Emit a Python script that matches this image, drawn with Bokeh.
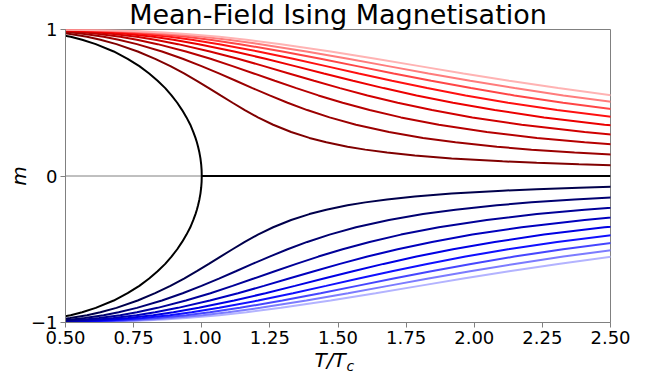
from bokeh.plotting import figure
from bokeh.models import FixedTicker, NumeralTickFormatter, Span, Title, Range1d
from bokeh.embed import file_html
from bokeh.resources import INLINE

# ---------------- data ----------------
TITLE = "Mean-Field Ising Magnetisation"
X_LABEL = "T/T"
X_LABEL_SUB = "c"
Y_LABEL = "m"
X_TICKS = [0.5, 0.75, 1.0, 1.25, 1.5, 1.75, 2.0, 2.25, 2.5]
Y_TICKS = [-1, 0, 1]
Y_TICK_LABELS = ["\u22121", "0", "1"]

# h = 0 (spontaneous magnetisation, both branches) and paramagnetic branch
T_H0 = [0.464, 0.493, 0.519, 0.561, 0.611, 0.677, 0.728, 0.771, 0.807, 0.838, 0.866, 0.889,
        0.910, 0.928, 0.944, 0.958, 0.9692, 0.9770, 0.9821, 0.9865, 0.9914, 0.9952, 0.9979,
        0.9995, 1.0, 0.9995, 0.9979, 0.9952, 0.9914, 0.9865, 0.9821, 0.9770, 0.9692, 0.958,
        0.944, 0.928, 0.910, 0.889, 0.866, 0.838, 0.807, 0.771, 0.728, 0.677, 0.611, 0.561,
        0.519, 0.493, 0.464]
M_H0 = [0.97, 0.96, 0.95, 0.93, 0.90, 0.85, 0.80, 0.75, 0.70, 0.65, 0.60, 0.55,
        0.50, 0.45, 0.40, 0.35, 0.30, 0.26, 0.23, 0.20, 0.16, 0.12, 0.08,
        0.04, 0.0, -0.04, -0.08, -0.12, -0.16, -0.20, -0.23, -0.26, -0.30, -0.35,
        -0.40, -0.45, -0.50, -0.55, -0.60, -0.65, -0.70, -0.75, -0.80, -0.85, -0.90, -0.93,
        -0.95, -0.96, -0.97]
T_PARA = [1.0, 2.5]
M_PARA = [0.0, 0.0]

# field h = 1/9 ... 9/9 (positive field: red, negative field: blue)
T_H1 = [0.475, 0.517, 0.579, 0.628, 0.687, 0.765, 0.829, 0.885, 0.935, 0.982, 1.026, 1.069, 1.113, 1.158,
        1.206, 1.262, 1.328, 1.395, 1.457, 1.535, 1.600, 1.680, 1.782, 1.917, 2.104, 2.229, 2.384, 2.583]
M_H1 = [0.98, 0.97, 0.95, 0.93, 0.90, 0.85, 0.80, 0.75, 0.70, 0.65, 0.60, 0.55, 0.50, 0.45,
        0.40, 0.35, 0.30, 0.26, 0.23, 0.20, 0.18, 0.16, 0.14, 0.12, 0.10, 0.09, 0.08, 0.07]
M_H1_NEG = [-0.98, -0.97, -0.95, -0.93, -0.90, -0.85, -0.80, -0.75, -0.70, -0.65, -0.60, -0.55, -0.50, -0.45,
            -0.40, -0.35, -0.30, -0.26, -0.23, -0.20, -0.18, -0.16, -0.14, -0.12, -0.10, -0.09, -0.08, -0.07]

T_H2 = [0.458, 0.523, 0.570, 0.640, 0.695, 0.762, 0.854, 0.930, 0.999, 1.063, 1.125, 1.186,
        1.249, 1.315, 1.387, 1.469, 1.566, 1.687, 1.812, 1.931, 2.083, 2.210, 2.368, 2.570]
M_H2 = [0.99, 0.98, 0.97, 0.95, 0.93, 0.90, 0.85, 0.80, 0.75, 0.70, 0.65, 0.60,
        0.55, 0.50, 0.45, 0.40, 0.35, 0.30, 0.26, 0.23, 0.20, 0.18, 0.16, 0.14]
M_H2_NEG = [-0.99, -0.98, -0.97, -0.95, -0.93, -0.90, -0.85, -0.80, -0.75, -0.70, -0.65, -0.60,
            -0.55, -0.50, -0.45, -0.40, -0.35, -0.30, -0.26, -0.23, -0.20, -0.18, -0.16, -0.14]

T_H3 = [0.444, 0.500, 0.572, 0.623, 0.701, 0.762, 0.838, 0.942, 1.032, 1.113, 1.191,
        1.268, 1.347, 1.428, 1.517, 1.616, 1.731, 1.870, 2.046, 2.230, 2.405, 2.631]
M_H3 = [0.995, 0.99, 0.98, 0.97, 0.95, 0.93, 0.90, 0.85, 0.80, 0.75, 0.70,
        0.65, 0.60, 0.55, 0.50, 0.45, 0.40, 0.35, 0.30, 0.26, 0.23, 0.20]
M_H3_NEG = [-0.995, -0.99, -0.98, -0.97, -0.95, -0.93, -0.90, -0.85, -0.80, -0.75, -0.70,
            -0.65, -0.60, -0.55, -0.50, -0.45, -0.40, -0.35, -0.30, -0.26, -0.23, -0.20]

T_H4 = [0.481, 0.542, 0.620, 0.676, 0.761, 0.829, 0.913, 1.030, 1.133, 1.228,
        1.320, 1.412, 1.507, 1.608, 1.719, 1.845, 1.993, 2.174, 2.405, 2.647]
M_H4 = [0.995, 0.99, 0.98, 0.97, 0.95, 0.93, 0.90, 0.85, 0.80, 0.75,
        0.70, 0.65, 0.60, 0.55, 0.50, 0.45, 0.40, 0.35, 0.30, 0.26]
M_H4_NEG = [-0.995, -0.99, -0.98, -0.97, -0.95, -0.93, -0.90, -0.85, -0.80, -0.75,
            -0.70, -0.65, -0.60, -0.55, -0.50, -0.45, -0.40, -0.35, -0.30, -0.26]

T_H5 = [0.409, 0.518, 0.584, 0.668, 0.729, 0.822, 0.896, 0.989, 1.119, 1.234,
        1.342, 1.448, 1.555, 1.667, 1.788, 1.922, 2.075, 2.256, 2.478, 2.764]
M_H5 = [0.999, 0.995, 0.99, 0.98, 0.97, 0.95, 0.93, 0.90, 0.85, 0.80,
        0.75, 0.70, 0.65, 0.60, 0.55, 0.50, 0.45, 0.40, 0.35, 0.30]
M_H5_NEG = [-0.999, -0.995, -0.99, -0.98, -0.97, -0.95, -0.93, -0.90, -0.85, -0.80,
            -0.75, -0.70, -0.65, -0.60, -0.55, -0.50, -0.45, -0.40, -0.35, -0.30]

T_H6 = [0.438, 0.555, 0.626, 0.717, 0.782, 0.883, 0.963, 1.064, 1.207, 1.335,
        1.456, 1.576, 1.698, 1.827, 1.968, 2.124, 2.304, 2.518, 2.782]
M_H6 = [0.999, 0.995, 0.99, 0.98, 0.97, 0.95, 0.93, 0.90, 0.85, 0.80,
        0.75, 0.70, 0.65, 0.60, 0.55, 0.50, 0.45, 0.40, 0.35]
M_H6_NEG = [-0.999, -0.995, -0.99, -0.98, -0.97, -0.95, -0.93, -0.90, -0.85, -0.80,
            -0.75, -0.70, -0.65, -0.60, -0.55, -0.50, -0.45, -0.40, -0.35]

T_H7 = [0.468, 0.592, 0.668, 0.765, 0.835, 0.943, 1.030, 1.140, 1.296, 1.436,
        1.570, 1.704, 1.842, 1.988, 2.147, 2.326, 2.533, 2.780]
M_H7 = [0.999, 0.995, 0.99, 0.98, 0.97, 0.95, 0.93, 0.90, 0.85, 0.80,
        0.75, 0.70, 0.65, 0.60, 0.55, 0.50, 0.45, 0.40]
M_H7_NEG = [-0.999, -0.995, -0.99, -0.98, -0.97, -0.95, -0.93, -0.90, -0.85, -0.80,
            -0.75, -0.70, -0.65, -0.60, -0.55, -0.50, -0.45, -0.40]

T_H8 = [0.497, 0.629, 0.710, 0.813, 0.888, 1.004, 1.097, 1.215, 1.384, 1.537,
        1.684, 1.832, 1.985, 2.148, 2.327, 2.528, 2.762]
M_H8 = [0.999, 0.995, 0.99, 0.98, 0.97, 0.95, 0.93, 0.90, 0.85, 0.80,
        0.75, 0.70, 0.65, 0.60, 0.55, 0.50, 0.45]
M_H8_NEG = [-0.999, -0.995, -0.99, -0.98, -0.97, -0.95, -0.93, -0.90, -0.85, -0.80,
            -0.75, -0.70, -0.65, -0.60, -0.55, -0.50, -0.45]

T_H9 = [0.482, 0.526, 0.666, 0.752, 0.862, 0.942, 1.065, 1.164, 1.291, 1.473,
        1.638, 1.799, 1.960, 2.128, 2.308, 2.507, 2.731]
M_H9 = [0.9995, 0.999, 0.995, 0.99, 0.98, 0.97, 0.95, 0.93, 0.90, 0.85,
        0.80, 0.75, 0.70, 0.65, 0.60, 0.55, 0.50]
M_H9_NEG = [-0.9995, -0.999, -0.995, -0.99, -0.98, -0.97, -0.95, -0.93, -0.90, -0.85,
            -0.80, -0.75, -0.70, -0.65, -0.60, -0.55, -0.50]

# ---------------- styles ----------------
RED_COLORS = ["#800000", "#9b0000", "#b60000", "#d10000", "#ec0000",
              "#ff1010", "#ff4646", "#ff7c7c", "#ffb3b3"]
BLUE_COLORS = ["#00004c", "#000072", "#000098", "#0000be", "#0000e4",
               "#1010ff", "#4646ff", "#7c7cff", "#b3b3ff"]
FONT = "DejaVu Sans"
EDGE = "#808080"

T_LIST = [T_H1, T_H2, T_H3, T_H4, T_H5, T_H6, T_H7, T_H8, T_H9]
M_POS = [M_H1, M_H2, M_H3, M_H4, M_H5, M_H6, M_H7, M_H8, M_H9]
M_NEG = [M_H1_NEG, M_H2_NEG, M_H3_NEG, M_H4_NEG, M_H5_NEG, M_H6_NEG, M_H7_NEG, M_H8_NEG, M_H9_NEG]

p = figure(width=638, height=375,
           x_range=Range1d(0.5, 2.5), y_range=Range1d(-1, 1),
           output_backend="svg", toolbar_location=None,
           min_border_left=65, min_border_right=28,
           min_border_top=29, min_border_bottom=53)
p.background_fill_color = "white"
p.border_fill_color = "white"
p.outline_line_color = EDGE
p.outline_line_width = 1
p.grid.visible = False

# title (above panel)
p.title.text = TITLE
p.title.align = "center"
p.title.vertical_align = "top"
p.title.text_font = FONT
p.title.text_font_size = "27px"
p.title.text_font_style = "normal"
p.title.text_color = "black"
p.title.standoff = -5

p.xaxis.ticker = FixedTicker(ticks=X_TICKS)
p.xaxis.formatter = NumeralTickFormatter(format="0.00")
p.yaxis.ticker = FixedTicker(ticks=Y_TICKS)
p.yaxis.major_label_overrides = dict(zip(Y_TICKS, Y_TICK_LABELS))
for ax in (p.xaxis[0], p.yaxis[0]):
    ax.axis_line_color = EDGE
    ax.major_tick_line_color = EDGE
    ax.major_tick_out = 5
    ax.major_tick_in = 0
    ax.minor_tick_line_color = None
    ax.major_label_text_font = FONT
    ax.major_label_text_font_size = "18px"
    ax.major_label_text_color = "black"
    ax.major_label_standoff = 3

yax = p.yaxis[0]
yax.axis_label = Y_LABEL
yax.axis_label_text_font = FONT
yax.axis_label_text_font_style = "italic"
yax.axis_label_text_font_size = "20px"
yax.axis_label_text_color = "black"
yax.axis_label_standoff = -3

# x label "T/T" with subscript "c", as titles in the panel below the axis
p.add_layout(Title(text=X_LABEL, align="left", offset=249, vertical_align="top", standoff=2,
                   text_font=FONT, text_font_style="italic", text_font_size="20px",
                   text_color="black"), "below")
p.add_layout(Title(text=X_LABEL_SUB, align="left", offset=281, vertical_align="top", standoff=-33,
                   text_font=FONT, text_font_style="italic", text_font_size="14px",
                   text_color="black"), "below")

p.add_layout(Span(location=0, dimension="width", line_color=EDGE,
                  line_width=1, level="underlay"))

# negative fields, light to dark
for T, M, c in reversed(list(zip(T_LIST, M_NEG, BLUE_COLORS))):
    p.line(T, M, line_color=c, line_width=2)
# zero field
p.line(T_H0, M_H0, line_color="black", line_width=2)
p.line(T_PARA, M_PARA, line_color="black", line_width=2)
# positive fields, dark to light
for T, M, c in zip(T_LIST, M_POS, RED_COLORS):
    p.line(T, M, line_color=c, line_width=2)

open("out.html", "w").write(file_html(p, INLINE))
